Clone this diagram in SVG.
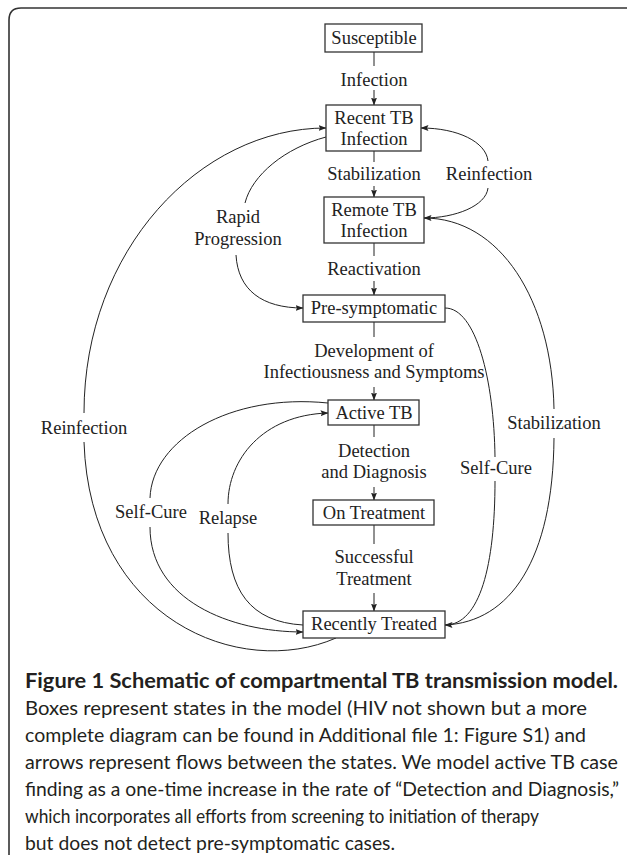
<svg xmlns="http://www.w3.org/2000/svg" width="627" height="855" viewBox="0 0 627 855">
<defs>
<marker id="ah" viewBox="0 0 8 6" refX="7.5" refY="3" markerWidth="8" markerHeight="6" markerUnits="userSpaceOnUse" orient="auto">
<path d="M0,0 L8,3 L0,6 L1.5,3 z" fill="#222"/>
</marker>
<style>
.box{fill:#fff;stroke:#333;stroke-width:1.3}
.lbl{font-family:"Liberation Serif","Times New Roman",serif;font-size:18.5px;fill:#222;text-anchor:middle}
.cn path,.cn line{fill:none;stroke:#222;stroke-width:1}
.arr{marker-end:url(#ah)}
.cap{font-family:Lato,"Open Sans","Liberation Sans",sans-serif;font-size:19.5px;fill:#231f20}
.capb{font-family:Lato,"Open Sans","Liberation Sans",sans-serif;font-size:21px;font-weight:bold;fill:#231f20}
</style>
</defs>
<rect width="627" height="855" fill="#fff"/>
<path d="M9,855 V20 Q9,8 21,8 H627" fill="none" stroke="#333" stroke-width="1.6"/>

<g id="connectors" class="cn">
<line x1="374" y1="52" x2="374" y2="66"/>
<line class="arr" x1="374" y1="90" x2="374" y2="105"/>
<line x1="374" y1="151" x2="374" y2="162"/>
<line class="arr" x1="374" y1="186" x2="374" y2="197"/>
<line x1="374" y1="243" x2="374" y2="256"/>
<line class="arr" x1="374" y1="281" x2="374" y2="295"/>
<line x1="374" y1="322" x2="374" y2="337"/>
<line class="arr" x1="374" y1="387" x2="374" y2="400"/>
<line x1="374" y1="425" x2="374" y2="437"/>
<line class="arr" x1="374" y1="487" x2="374" y2="500"/>
<line x1="374" y1="525" x2="374" y2="544"/>
<line class="arr" x1="374" y1="593" x2="374" y2="611"/>
<!-- Reinfection right: Remote -> Recent -->
<path d="M424,218 C455,218 486,206 488,188"/>
<path class="arr" d="M488,161 C486,142 458,128 421,128"/>
<!-- Stabilization right: Recently Treated -> Remote -->
<path d="M445,625 C510,622 553,560 554,438"/>
<path class="arr" d="M554,409 C552,300 500,218 424,218"/>
<!-- Self-Cure right: Pre-symptomatic -> Recently Treated -->
<path d="M445,308 C476,308 494,380 495,457"/>
<path class="arr" d="M495,481 C495,565 480,625 445,625"/>
<!-- Reinfection left: Recently Treated -> Recent TB -->
<path d="M336,638 C240,680 90,620 84,442"/>
<path class="arr" d="M84,413 C84,250 200,128 326,128"/>
<!-- Rapid Progression: Recent TB -> Pre-symptomatic -->
<path d="M326,137 C285,148 252,175 245,203"/>
<path class="arr" d="M236,255 C238,290 262,308 303,308"/>
<!-- Self-Cure left: Active TB -> Recently Treated -->
<path d="M328,403 C230,393 152,440 150,498"/>
<path class="arr" d="M150,527 C150,600 230,632 303,632"/>
<!-- Relapse: Recently Treated -> Active TB -->
<path d="M303,625 C250,622 228,590 228,533"/>
<path class="arr" d="M228,504 C228,460 262,415 328,413"/>
</g>

<g id="susceptible"><rect class="box" x="325" y="24" width="97" height="28"/><text class="lbl" x="374" y="44">Susceptible</text></g>
<g id="recent-tb"><rect class="box" x="326" y="105" width="95" height="46"/><text class="lbl" x="374" y="124">Recent TB</text><text class="lbl" x="374" y="145">Infection</text></g>
<g id="remote-tb"><rect class="box" x="324" y="197" width="100" height="46"/><text class="lbl" x="374" y="216">Remote TB</text><text class="lbl" x="374" y="237">Infection</text></g>
<g id="pre-symptomatic"><rect class="box" x="303" y="295" width="142" height="27"/><text class="lbl" x="374" y="314">Pre-symptomatic</text></g>
<g id="active-tb"><rect class="box" x="328" y="400" width="91" height="25"/><text class="lbl" x="374" y="419">Active TB</text></g>
<g id="on-treatment"><rect class="box" x="313" y="500" width="121" height="25"/><text class="lbl" x="374" y="519">On Treatment</text></g>
<g id="recently-treated"><rect class="box" x="303" y="611" width="142" height="27"/><text class="lbl" x="374" y="630">Recently Treated</text></g>

<g id="labels">
<text class="lbl" x="374" y="86">Infection</text>
<text class="lbl" x="374" y="180">Stabilization</text>
<text class="lbl" x="489" y="180">Reinfection</text>
<text class="lbl" x="238" y="223">Rapid</text>
<text class="lbl" x="238" y="245">Progression</text>
<text class="lbl" x="374" y="275">Reactivation</text>
<text class="lbl" x="374" y="357">Development of</text>
<text class="lbl" x="374" y="378">Infectiousness and Symptoms</text>
<text class="lbl" x="84" y="434">Reinfection</text>
<text class="lbl" x="554" y="429">Stabilization</text>
<text class="lbl" x="374" y="457">Detection</text>
<text class="lbl" x="374" y="478">and Diagnosis</text>
<text class="lbl" x="496" y="474">Self-Cure</text>
<text class="lbl" x="151" y="518">Self-Cure</text>
<text class="lbl" x="228" y="524">Relapse</text>
<text class="lbl" x="374" y="563">Successful</text>
<text class="lbl" x="374" y="585">Treatment</text>
</g>

<g id="caption">
<text class="capb" x="25" y="688" textLength="593" lengthAdjust="spacingAndGlyphs">Figure 1 Schematic of compartmental TB transmission model.</text>
<text class="cap" x="25" y="715" textLength="562" lengthAdjust="spacingAndGlyphs">Boxes represent states in the model (HIV not shown but a more</text>
<text class="cap" x="25" y="742" textLength="561" lengthAdjust="spacingAndGlyphs">complete diagram can be found in Additional file 1: Figure S1) and</text>
<text class="cap" x="25" y="769" textLength="593" lengthAdjust="spacingAndGlyphs">arrows represent flows between the states. We model active TB case</text>
<text class="cap" x="25" y="796" style="font-size:19px" textLength="594" lengthAdjust="spacingAndGlyphs">finding as a one-time increase in the rate of “Detection and Diagnosis,”</text>
<text class="cap" x="25" y="823" textLength="514" lengthAdjust="spacingAndGlyphs">which incorporates all efforts from screening to initiation of therapy</text>
<text class="cap" x="25" y="850" textLength="370" lengthAdjust="spacingAndGlyphs">but does not detect pre-symptomatic cases.</text>
</g>
</svg>
